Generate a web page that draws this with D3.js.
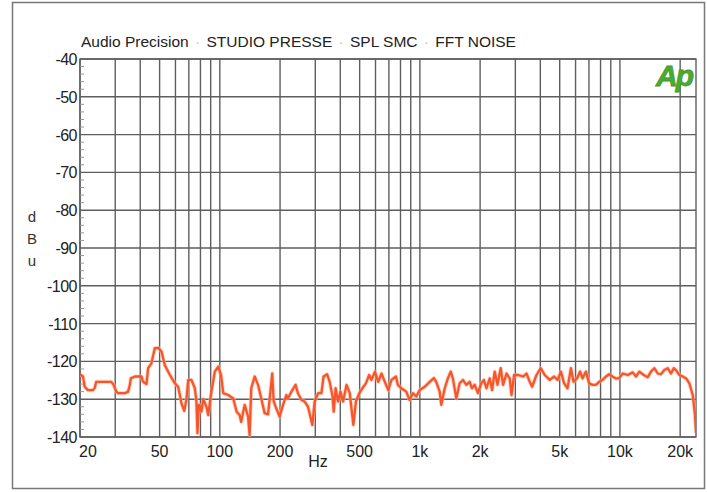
<!DOCTYPE html>
<html>
<head>
<meta charset="utf-8">
<script src="https://cdn.jsdelivr.net/npm/d3@7"></script>
<style>
  body { margin: 0; background: #fff; }
  svg { display: block; font-family: "Liberation Sans", Arial, sans-serif; }
</style>
</head>
<body>
<div id="chart"></div>
<script>
// Chart data
const freqHz = [20, 20.7, 21.1, 21.9, 23.2, 23.7, 24.1, 28.6, 29.3, 30.4, 31, 33.6, 34.8, 35.5, 35.9, 37.6, 40.6, 41.3, 43, 43.8,
  45.5, 47.3, 49.2, 51.1, 53.1, 56.3, 59.6, 61.9, 64.3, 66.4, 68.1, 69.5, 72.1, 75, 76.4, 77.3, 78.6, 80.9, 82.6, 85.7,
  87.5, 90.2, 94.4, 98.2, 101.4, 104, 110.2, 116.7, 121.3, 125.6, 127.9, 133.1, 138.4, 140.9, 143.6, 149.3, 155.2, 161.1, 167.5, 174.2,
  177.4, 182.8, 185.8, 191.4, 199, 207, 215, 219, 228, 239, 246, 256, 265, 276, 290, 298, 310, 322, 330, 344,
  354, 366, 371, 379, 390, 401, 413, 430, 446, 465, 479, 498, 516, 537, 558, 573, 596, 619, 643, 668,
  695, 721, 759, 776, 807, 855, 887, 923, 959, 998, 1057, 1120, 1175, 1208, 1256, 1279, 1331, 1380, 1426, 1462,
  1521, 1581, 1641, 1706, 1774, 1820, 1879, 1950, 2028, 2089, 2152, 2234, 2296, 2366, 2443, 2535, 2606, 2710, 2812, 2871,
  2958, 3097, 3281, 3412, 3540, 3639, 3828, 4018, 4207, 4457, 4688, 4875, 5070, 5260, 5470, 5689, 5862, 6095, 6325, 6502,
  6761, 7015, 7296, 7586, 7871, 8186, 8511, 8831, 9184, 9550, 9886, 10330, 10940, 11590, 12020, 12500, 13150, 13770, 14290, 14860,
  15450, 16030, 16670, 17340, 17990, 18580, 19050, 19820, 20610, 21430, 22230, 23120, 23720, 24000];

const levelDb = [-123.4, -124, -126.7, -127.6, -127.6, -127, -125.4, -125.4, -126, -128, -128.4, -128.4, -128, -126.2, -124.5, -124, -124, -125.4, -126, -121.8,
  -120.5, -116.5, -116.4, -117.4, -121, -123.6, -125.8, -126.7, -131.1, -133.1, -130, -124.9, -124.9, -127.1, -130.6, -139, -131.5, -133.3, -130, -132,
  -134.2, -128.9, -122.7, -121.4, -123.6, -128.4, -128.9, -129.8, -133.3, -134.2, -136, -131.5, -134.6, -139.5, -127.1, -124, -126.2, -129.8, -133.7, -134,
  -130, -123.2, -130.5, -132.4, -134.6, -131.5, -128.9, -129.8, -128, -126.2, -128.5, -130.2, -130.6, -132, -136.8, -130.6, -128.4, -128.4, -124, -123.4,
  -125.4, -129.3, -133.3, -127.1, -130.6, -128, -130.6, -126.2, -128.4, -136.8, -130.6, -128.4, -127.1, -125.8, -123.6, -124.9, -122.7, -125.4, -123.2, -125.4,
  -127.6, -124.9, -124, -126.2, -127.1, -128, -130.2, -128.4, -129.3, -127.6, -126.7, -125.4, -124.4, -125.5, -128, -131.5, -127.1, -124.5, -122.7, -124.5,
  -129.8, -125.8, -124.9, -126.2, -125.4, -127.1, -126.2, -128.4, -125.8, -124.9, -127.1, -124.5, -127.6, -122.7, -126.2, -121.8, -126.2, -123.2, -124.5, -128.9,
  -123.6, -123.6, -124, -123.2, -125.4, -126.7, -123.6, -121.8, -123.6, -124.9, -124, -124.9, -122.7, -125.8, -127.1, -121.8, -125.4, -124.5, -122.7, -124.5,
  -122.7, -125.8, -126.2, -126.2, -125.4, -124.9, -124, -123.4, -124, -124.5, -124.5, -123.2, -123.6, -122.9, -124, -122.7, -123.6, -124.2, -122.7, -121.8,
  -123.2, -123.4, -122.3, -121.8, -123.2, -121.8, -122.3, -123.6, -124, -124.5, -125.8, -128.9, -134.2, -138.9];

const yTicks = [-40, -50, -60, -70, -80, -90, -100, -110, -120, -130, -140];
const xGrid = [20, 30, 40, 50, 60, 70, 80, 90, 100, 200, 300, 400, 500, 600, 700, 800, 900,
  1000, 2000, 3000, 4000, 5000, 6000, 7000, 8000, 9000, 10000, 20000];
const xTickValues = [20, 50, 100, 200, 500, 1000, 2000, 5000, 10000, 20000];
const xTickLabels = ["20", "50", "100", "200", "500", "1k", "2k", "5k", "10k", "20k"];
const titleParts = ["Audio Precision", "STUDIO PRESSE", "SPL SMC", "FFT NOISE"];

const width = 707, height = 492;
const plot = { left: 80, right: 696, top: 59, bottom: 437 };

const svg = d3.select("#chart").append("svg")
  .attr("width", width)
  .attr("height", height);

// outer frame
svg.append("rect")
  .attr("x", 12.5).attr("y", 2.5)
  .attr("width", 692).attr("height", 486)
  .attr("fill", "none")
  .attr("stroke", "#777")
  .attr("stroke-width", 1.5);

const x = d3.scaleLog().domain([20, 24000]).range([plot.left, plot.right]);
const y = d3.scaleLinear().domain([-140, -40]).range([plot.bottom, plot.top]);

// grid
const grid = svg.append("g").attr("stroke", "#5e5e5e").attr("stroke-width", 1.4);
grid.selectAll(".vg").data(xGrid).enter().append("line")
  .attr("x1", d => x(d)).attr("x2", d => x(d))
  .attr("y1", plot.top).attr("y2", plot.bottom);
grid.selectAll(".hg").data(yTicks).enter().append("line")
  .attr("x1", plot.left).attr("x2", plot.right)
  .attr("y1", d => y(d)).attr("y2", d => y(d));
grid.append("rect")
  .attr("x", plot.left).attr("y", plot.top)
  .attr("width", plot.right - plot.left).attr("height", plot.bottom - plot.top)
  .attr("fill", "none");

// minor ticks on left edge, every 2 dB
const minor = d3.range(-140, -40, 2).filter(d => d % 10 !== 0);
svg.append("g").selectAll("line").data(minor).enter().append("line")
  .attr("x1", plot.left).attr("x2", plot.left + 4)
  .attr("y1", d => y(d)).attr("y2", d => y(d))
  .attr("stroke", "#999").attr("stroke-width", 1);

// y labels
svg.append("g").selectAll("text").data(yTicks).enter().append("text")
  .attr("x", plot.left - 3)
  .attr("y", d => y(d) + 6)
  .attr("text-anchor", "end")
  .style("font-size", "16px")
  .style("letter-spacing", "-0.5px")
  .attr("fill", "#222")
  .text(d => d);

// x labels
svg.append("g").selectAll("text").data(xTickValues).enter().append("text")
  .attr("x", (d, i) => i === 0 ? x(d) + 8 : x(d))
  .attr("y", 457)
  .attr("text-anchor", "middle")
  .style("font-size", "16px")
  .attr("fill", "#222")
  .text((d, i) => xTickLabels[i]);

svg.append("text")
  .attr("x", 318).attr("y", 467)
  .attr("text-anchor", "middle")
  .style("font-size", "16px")
  .attr("fill", "#222")
  .text("Hz");

// y axis unit, stacked letters
svg.append("g").selectAll("text").data(["d", "B", "u"]).enter().append("text")
  .attr("x", 32)
  .attr("y", (d, i) => 222 + i * 22)
  .attr("text-anchor", "middle")
  .style("font-size", "15px")
  .attr("fill", "#333")
  .text(d => d);

// title
const title = svg.append("text")
  .attr("x", 81).attr("y", 47)
  .style("font-size", "15.5px")
  .attr("fill", "#222");
titleParts.forEach((t, i) => {
  if (i > 0) title.append("tspan").attr("fill", "#c4c4c4").attr("dx", 2).text(" \u00b7 ");
  title.append("tspan").attr("dx", i > 0 ? 2 : 0).text(t);
});

// Ap logo
svg.append("text")
  .attr("x", 674).attr("y", 86)
  .attr("text-anchor", "middle")
  .style("font-size", "30px")
  .style("font-weight", "bold")
  .style("font-style", "italic")
  .style("letter-spacing", "-2px")
  .attr("fill", "#4aab32")
  .attr("stroke", "#3f9a2c")
  .attr("stroke-width", 0.8)
  .text("Ap");

// curve
svg.append("clipPath").attr("id", "clip")
  .append("rect")
  .attr("x", plot.left).attr("y", plot.top)
  .attr("width", plot.right - plot.left).attr("height", plot.bottom - plot.top);

const line = d3.line()
  .x((d, i) => x(freqHz[i]))
  .y(d => y(d));

svg.append("path")
  .datum(levelDb)
  .attr("clip-path", "url(#clip)")
  .attr("d", line)
  .attr("fill", "none")
  .attr("stroke", "#ffb49a")
  .attr("stroke-width", 4)
  .attr("stroke-linejoin", "round")
  .attr("opacity", 0.6);

svg.append("path")
  .datum(levelDb)
  .attr("clip-path", "url(#clip)")
  .attr("d", line)
  .attr("fill", "none")
  .attr("stroke", "#f8552a")
  .attr("stroke-width", 2.3)
  .attr("stroke-linejoin", "round");
</script>
</body>
</html>
